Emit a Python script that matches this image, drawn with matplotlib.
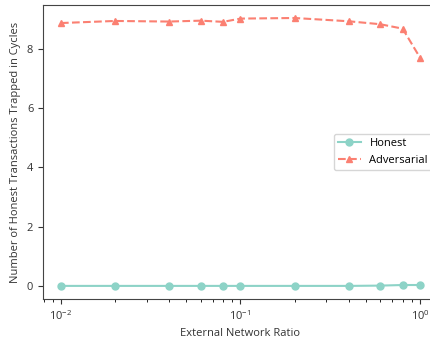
import matplotlib
matplotlib.use("Agg")
import matplotlib.pyplot as plt

plt.rcParams['font.family'] = ['Open Sans', 'DejaVu Sans']
plt.rcParams['font.size'] = 8

ratios = [0.01, 0.02, 0.04, 0.06, 0.08, 0.1, 0.2, 0.4, 0.6, 0.8, 1.0]
honest = [0.0, 0.0, 0.0, 0.0, 0.0, 0.0, 0.0, 0.0, 0.01, 0.03, 0.03]
adversarial = [8.87, 8.94, 8.92, 8.95, 8.91, 9.02, 9.04, 8.93, 8.83, 8.68, 7.70]

W, H = 431, 340
fig = plt.figure(figsize=(W / 100, H / 100), dpi=100)
left, right, top, bottom = 43, 438, 4.6, 299.3
ax = fig.add_axes([left / W, 1 - bottom / H, (right - left) / W, (bottom - top) / H])

ax.plot(ratios, honest, color='#8dd3c7', marker='o', linestyle='-', linewidth=1.5,
        markersize=5, label='Honest')
ax.plot(ratios, adversarial, color='#fb8072', marker='^', linestyle='--', linewidth=1.5,
        markersize=5, label='Adversarial')
ax.set_xscale('log')
ax.set_xlabel('External Network Ratio', color='#333333')
ax.set_ylabel('Number of Honest Transactions Trapped in Cycles', color='#333333')
ax.tick_params(colors='#333333', labelsize=8)
for s in ax.spines.values():
    s.set_color('#444444')
ax.legend(loc='center right', fontsize=8)

fig.savefig('out.png', dpi=100)
